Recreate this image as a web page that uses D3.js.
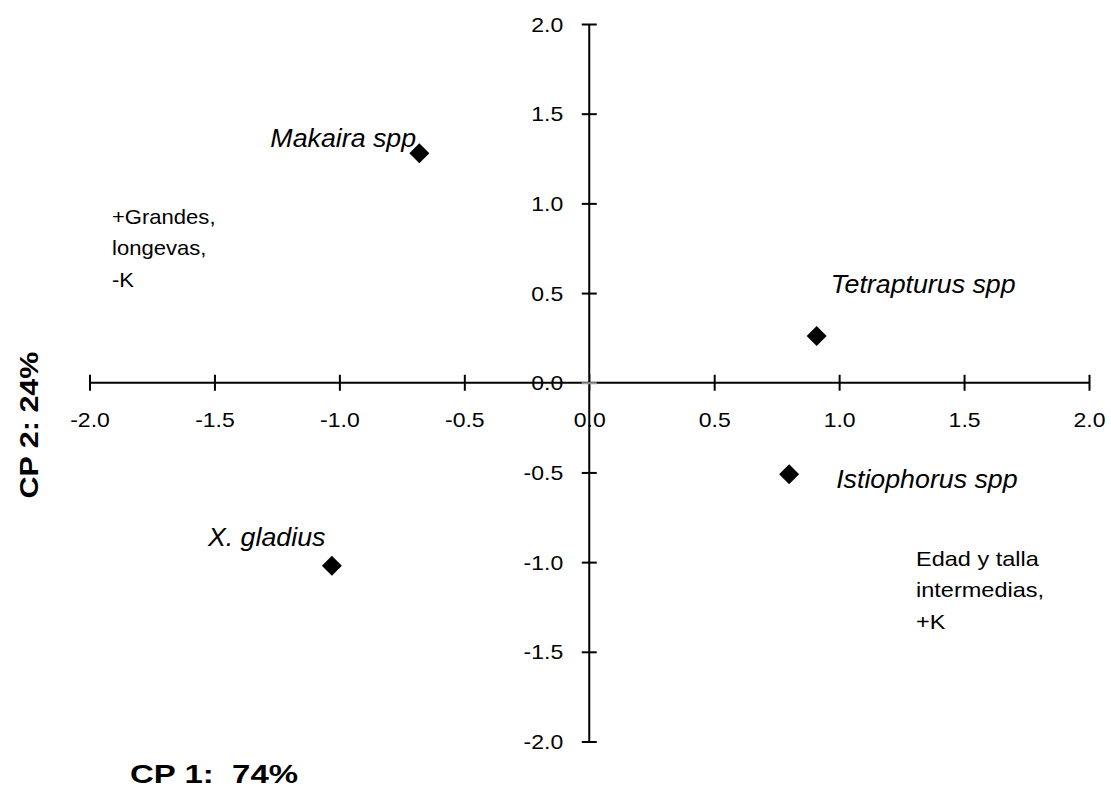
<!DOCTYPE html>
<html>
<head>
<meta charset="utf-8">
<script src="https://cdn.jsdelivr.net/npm/d3@7"></script>
<style>
  html, body { margin: 0; padding: 0; background: #fff; }
  svg { display: block; font-family: "Liberation Sans", Arial, sans-serif; }
</style>
</head>
<body>
<svg id="chart" width="1111" height="790"></svg>
<script>
// PCA scores (CP 1 vs CP 2) for billfish groups
const species = ["Makaira spp", "X. gladius", "Tetrapturus spp", "Istiophorus spp"];
const cp1 = [-0.68, -1.03, 0.91, 0.80];
const cp2 = [1.28, -1.02, 0.26, -0.51];

const xTicks = [-2.0, -1.5, -1.0, -0.5, 0.0, 0.5, 1.0, 1.5, 2.0];
const yTicks = [-2.0, -1.5, -1.0, -0.5, 0.0, 0.5, 1.0, 1.5, 2.0];

const xTitle = "CP 1:  74%";
const yTitle = "CP 2: 24%";
const noteLeft = ["+Grandes,", "longevas,", "-K"];
const noteRight = ["Edad y talla", "intermedias,", "+K"];

const svg = d3.select("#chart");

const x = d3.scaleLinear().domain([-2, 2]).range([89.5, 1089]);
const y = d3.scaleLinear().domain([-2, 2]).range([741.5, 24]);

// one decimal, plain hyphen for negatives
const fmt = d => d3.format(".1f")(d).replace("\u2212", "-");
const TICK_SX = 1.15;

// Horizontal axis through y = 0
const gx = svg.append("g")
  .attr("transform", `translate(0,${y(0)})`)
  .call(d3.axisBottom(x).tickValues(xTicks).tickFormat(fmt).tickSizeOuter(0));
gx.select(".domain").attr("stroke", "#000").attr("stroke-width", 2)
  .attr("d", `M${x(-2)},0H${x(2)}`);
gx.selectAll(".tick line")
  .attr("y1", -8).attr("y2", 8)
  .attr("stroke-width", 2)
  .attr("stroke", d => d === 0 ? "#999" : "#000");
gx.selectAll(".tick text")
  .attr("y", 0).attr("dy", null)
  .attr("transform", `translate(0,44) scale(${TICK_SX},1)`)
  .attr("font-size", 20)
  .attr("font-family", "Liberation Sans, Arial, sans-serif")
  .attr("fill", "#000");

// Vertical axis through x = 0
const gy = svg.append("g")
  .attr("transform", `translate(${x(0)},0)`)
  .call(d3.axisLeft(y).tickValues(yTicks).tickFormat(fmt).tickSizeOuter(0));
gy.select(".domain").attr("stroke", "#000").attr("stroke-width", 2)
  .attr("d", `M0,${y(2)}V${y(-2)}`);
gy.selectAll(".tick line")
  .attr("x1", -7.5).attr("x2", 7.5)
  .attr("stroke-width", 2)
  .attr("stroke", d => d === 0 ? "#999" : "#000");
gy.selectAll(".tick text")
  .attr("x", 0).attr("dy", "0.35em")
  .attr("transform", `translate(-26,0) scale(${TICK_SX},1)`)
  .attr("font-size", 20)
  .attr("font-family", "Liberation Sans, Arial, sans-serif")
  .attr("fill", "#000");

// Zero tick marks drawn over the axis lines
gx.selectAll(".tick").filter(d => d === 0).raise();

// Points
const pts = species.map((s, i) => ({ name: s, x: cp1[i], y: cp2[i] }));
const diamond = d3.symbol().type(d3.symbolSquare).size(200);
svg.append("g").selectAll("path")
  .data(pts).join("path")
  .attr("d", diamond)
  .attr("transform", d => `translate(${x(d.x)},${y(d.y)}) rotate(45)`)
  .attr("fill", "#000");

// Species labels (offsets from each point)
const labelOffsets = {
  "Makaira spp": [-149, -6],
  "X. gladius": [-124, -20],
  "Tetrapturus spp": [14, -43],
  "Istiophorus spp": [47, 14]
};
svg.append("g").selectAll("text")
  .data(pts).join("text")
  .attr("transform", d => `translate(${x(d.x) + labelOffsets[d.name][0]},${y(d.y) + labelOffsets[d.name][1]}) scale(1.03,1)`)
  .attr("font-size", 26)
  .attr("font-style", "italic")
  .text(d => d.name);

// Quadrant notes
function note(lines, x0, y0, sx) {
  const t = svg.append("text").attr("font-size", 21)
    .attr("transform", `translate(${x0},${y0}) scale(${sx},1)`);
  lines.forEach((l, i) => t.append("tspan").attr("x", 0).attr("dy", i === 0 ? 0 : 31.5).text(l));
}
note(noteLeft, 112, 224, 1.05);
note(noteRight, 916, 566, 1.12);

// Axis titles
svg.append("text")
  .attr("transform", "translate(130,783) scale(1.32,1)")
  .attr("font-size", 25).attr("font-weight", "bold")
  .style("white-space", "pre")
  .text(xTitle);

svg.append("text")
  .attr("transform", "translate(38,425) rotate(-90) scale(1.22,1)")
  .attr("text-anchor", "middle")
  .attr("font-size", 25).attr("font-weight", "bold")
  .text(yTitle);
</script>
</body>
</html>
